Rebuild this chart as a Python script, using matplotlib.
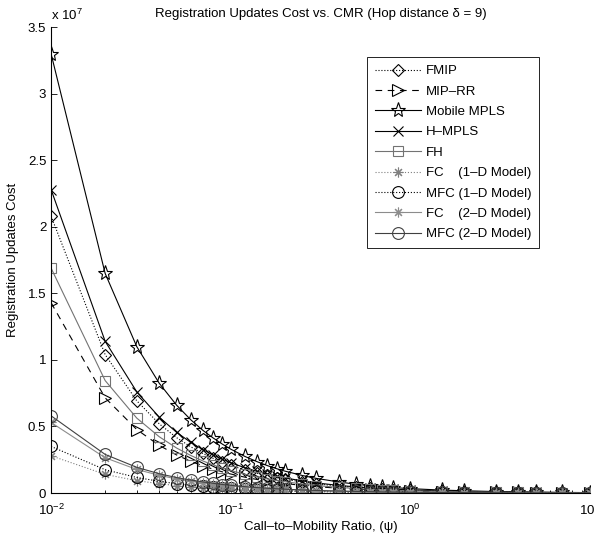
import matplotlib
matplotlib.use("Agg")
import matplotlib.pyplot as plt
from matplotlib.ticker import LogLocator, NullFormatter

plt.rcParams['font.family'] = ['Liberation Sans', 'DejaVu Sans']
plt.rcParams['mathtext.fontset'] = 'custom'
plt.rcParams['mathtext.rm'] = 'Liberation Sans'
plt.rcParams['mathtext.it'] = 'Liberation Sans:italic'

# call-to-mobility ratio (x positions)
psi = [0.01, 0.02, 0.03, 0.04, 0.05, 0.06, 0.07, 0.08, 0.09, 0.10,
       0.12, 0.14, 0.16, 0.18, 0.2, 0.25, 0.3, 0.4, 0.5, 0.6,
       0.7, 0.8, 1.0, 1.5, 2.0, 3.0, 4.0, 5.0, 7.0, 10.0]

# registration updates cost, in units of 1e7
fmip = [2.08, 1.04, 0.693, 0.52, 0.416, 0.347, 0.297, 0.26, 0.231, 0.208,
        0.173, 0.149, 0.13, 0.116, 0.104, 0.083, 0.069, 0.052, 0.042, 0.035,
        0.030, 0.026, 0.021, 0.014, 0.010, 0.007, 0.005, 0.004, 0.003, 0.002]
mip_rr = [1.43, 0.715, 0.477, 0.358, 0.286, 0.238, 0.204, 0.179, 0.159, 0.143,
          0.119, 0.102, 0.089, 0.079, 0.072, 0.057, 0.048, 0.036, 0.029, 0.024,
          0.020, 0.018, 0.014, 0.010, 0.007, 0.005, 0.004, 0.003, 0.002, 0.001]
mobile_mpls = [3.30, 1.65, 1.10, 0.825, 0.66, 0.55, 0.471, 0.413, 0.367, 0.33,
               0.275, 0.236, 0.206, 0.183, 0.165, 0.132, 0.11, 0.083, 0.066, 0.055,
               0.047, 0.041, 0.033, 0.022, 0.017, 0.011, 0.008, 0.007, 0.005, 0.003]
h_mpls = [2.28, 1.14, 0.76, 0.57, 0.456, 0.38, 0.326, 0.285, 0.253, 0.228,
          0.19, 0.163, 0.143, 0.127, 0.114, 0.091, 0.076, 0.057, 0.046, 0.038,
          0.033, 0.029, 0.023, 0.015, 0.011, 0.008, 0.006, 0.005, 0.003, 0.002]
fh = [1.69, 0.845, 0.563, 0.423, 0.338, 0.282, 0.241, 0.211, 0.188, 0.169,
      0.141, 0.121, 0.106, 0.094, 0.085, 0.068, 0.056, 0.042, 0.034, 0.028,
      0.024, 0.021, 0.017, 0.011, 0.008, 0.006, 0.004, 0.003, 0.002, 0.002]
fc_1d = [0.28, 0.14, 0.093, 0.07, 0.056, 0.047, 0.04, 0.035, 0.031, 0.028,
         0.023, 0.020, 0.018, 0.016, 0.014, 0.011, 0.009, 0.007, 0.006, 0.005,
         0.004, 0.004, 0.003, 0.002, 0.001, 0.001, 0.001, 0.001, 0.0, 0.0]
mfc_1d = [0.35, 0.175, 0.117, 0.088, 0.070, 0.058, 0.050, 0.044, 0.039, 0.035,
          0.029, 0.025, 0.022, 0.019, 0.018, 0.014, 0.012, 0.009, 0.007, 0.006,
          0.005, 0.004, 0.004, 0.002, 0.002, 0.001, 0.001, 0.001, 0.0, 0.0]
fc_2d = [0.53, 0.265, 0.177, 0.133, 0.106, 0.088, 0.076, 0.066, 0.059, 0.053,
         0.044, 0.038, 0.033, 0.029, 0.027, 0.021, 0.018, 0.013, 0.011, 0.009,
         0.008, 0.007, 0.005, 0.004, 0.003, 0.002, 0.001, 0.001, 0.001, 0.001]
mfc_2d = [0.58, 0.29, 0.193, 0.145, 0.116, 0.097, 0.083, 0.073, 0.064, 0.058,
          0.048, 0.041, 0.036, 0.032, 0.029, 0.023, 0.019, 0.015, 0.012, 0.010,
          0.008, 0.007, 0.006, 0.004, 0.003, 0.002, 0.001, 0.001, 0.001, 0.001]

asterisk = (8, 2, 0)
fs = 9.5

fig = plt.figure(figsize=(5.94, 5.33), dpi=100)
ax = fig.add_axes([0.086, 0.075, 0.907, 0.874])

ax.plot(psi, fmip, ':', color='k', lw=0.8, marker='D', ms=6, mfc='none', mew=0.8, label='FMIP')
ax.plot(psi, mip_rr, color='k', ls=(0, (6, 5)), lw=0.8, marker='>', ms=8, mfc='none', mew=0.8, label='MIP–RR')
ax.plot(psi, mobile_mpls, '-', color='k', lw=0.8, marker='*', ms=11, mfc='none', mew=0.8, label='Mobile MPLS')
ax.plot(psi, h_mpls, '-', color='k', lw=0.8, marker='x', ms=7, mew=0.8, label='H–MPLS')
ax.plot(psi, fh, '-', color='0.45', lw=0.8, marker='s', ms=6.5, mfc='none', mew=0.8, label='FH')
ax.plot(psi, fc_1d, ':', color='0.5', lw=0.8, marker=asterisk, ms=7, mew=0.8, label='FC    (1–D Model)')
ax.plot(psi, mfc_1d, ':', color='k', lw=0.8, marker='o', ms=8.5, mfc='none', mew=0.8, label='MFC (1–D Model)')
ax.plot(psi, fc_2d, '-', color='0.55', lw=0.8, marker=asterisk, ms=7, mew=0.8, label='FC    (2–D Model)')
ax.plot(psi, mfc_2d, '-', color='0.25', lw=0.8, marker='o', ms=8.5, mfc='none', mew=0.8, label='MFC (2–D Model)')

ax.set_xscale('log')
ax.set_xlim(0.01, 10)
ax.set_ylim(0, 3.5)
ax.set_yticks([0, 0.5, 1, 1.5, 2, 2.5, 3, 3.5])
ax.set_yticklabels(['0', '0.5', '1', '1.5', '2', '2.5', '3', '3.5'])
ax.xaxis.set_minor_locator(LogLocator(base=10, subs=range(2, 10), numticks=20))
ax.xaxis.set_minor_formatter(NullFormatter())

ax.spines['top'].set_visible(False)
ax.spines['right'].set_visible(False)
ax.tick_params(direction='in', labelsize=fs, length=4, width=0.6)
ax.tick_params(axis='x', pad=7)
ax.tick_params(which='minor', direction='in', length=2.5, width=0.6)

ax.set_title('Registration Updates Cost vs. CMR (Hop distance δ = 9)', fontsize=fs, pad=7)
ax.set_xlabel('Call–to–Mobility Ratio, (ψ)', fontsize=fs, labelpad=2)
ax.set_ylabel('Registration Updates Cost', fontsize=fs, labelpad=6)
ax.text(0.0, 1.008, 'x 10$^{7}$', transform=ax.transAxes, fontsize=fs, ha='left', va='bottom')

leg = ax.legend(loc='upper left', bbox_to_anchor=(0.586, 0.936), fontsize=fs,
                fancybox=False, edgecolor='k', framealpha=1, handlelength=3.5,
                handletextpad=0.38, labelspacing=0.62, borderpad=0.6, borderaxespad=0)
leg.get_frame().set_linewidth(0.6)

fig.savefig('out.png', dpi=100)
